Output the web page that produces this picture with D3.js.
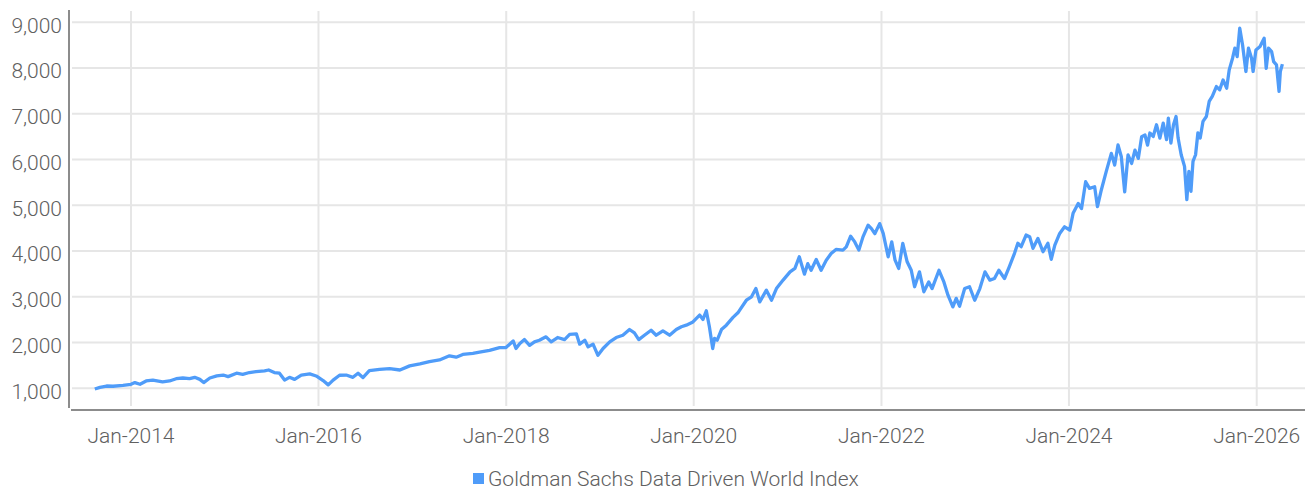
<!DOCTYPE html>
<html>

<head>
    <meta charset='utf-8'>
    <title>Goldman Sachs Data Driven World Index</title>
    <script type='text/javascript' src='https://cdn.jsdelivr.net/npm/d3@7'></script>
    <style>
        body { margin: 0; background: #fff; }
        text { font-family: Roboto, 'Noto Sans', sans-serif; font-weight: 300; fill: #606060; }
    </style>
</head>

<body>
    <svg width='1308' height='490'></svg>
    <script type='text/javascript'>
        const seriesName = 'Goldman Sachs Data Driven World Index'
        // roughly two points a month
        const dates = [
            '2013-08-13', '2013-09-02', '2013-09-28', '2013-10-23', '2013-12-01',
            '2014-01-01', '2014-01-16', '2014-02-05', '2014-03-01', '2014-03-27', '2014-05-04', '2014-05-31', '2014-06-26', '2014-07-22', '2014-08-17', '2014-09-06', '2014-09-26', '2014-10-11', '2014-11-04', '2014-12-01', '2014-12-26',
            '2015-01-14', '2015-02-16', '2015-03-12', '2015-04-07', '2015-05-03', '2015-06-05', '2015-06-21', '2015-07-13', '2015-08-02', '2015-08-22', '2015-09-10', '2015-09-30', '2015-10-26', '2015-11-28', '2015-12-23',
            '2016-01-19', '2016-02-08', '2016-02-27', '2016-03-23', '2016-04-18', '2016-05-14', '2016-06-03', '2016-06-22', '2016-07-17', '2016-08-26', '2016-10-04', '2016-11-13', '2016-12-21',
            '2017-01-30', '2017-03-08', '2017-04-16', '2017-05-25', '2017-06-20', '2017-07-16', '2017-08-24', '2017-09-19', '2017-10-28', '2017-12-06', '2017-12-31',
            '2018-01-28', '2018-02-08', '2018-02-23', '2018-03-13', '2018-04-02', '2018-04-21', '2018-05-10', '2018-06-05', '2018-06-25', '2018-07-20', '2018-08-16', '2018-09-05', '2018-10-01', '2018-10-14', '2018-11-03', '2018-11-16', '2018-12-05', '2018-12-24',
            '2019-01-13', '2019-02-08', '2019-03-05', '2019-03-31', '2019-04-26', '2019-05-15', '2019-06-01', '2019-06-23', '2019-07-19', '2019-08-08', '2019-09-03', '2019-09-29', '2019-10-25', '2019-11-14', '2019-12-03', '2019-12-29',
            '2020-01-24', '2020-02-06', '2020-02-19', '2020-03-02', '2020-03-15', '2020-03-22', '2020-04-01', '2020-04-18', '2020-05-07', '2020-06-02', '2020-06-21', '2020-06-28', '2020-07-24', '2020-08-13', '2020-08-30', '2020-09-14', '2020-10-10', '2020-10-30', '2020-11-18', '2020-12-14',
            '2021-01-10', '2021-01-29', '2021-02-15', '2021-03-07', '2021-03-20', '2021-04-02', '2021-04-22', '2021-05-11', '2021-05-31', '2021-06-19', '2021-07-08', '2021-08-04', '2021-08-17', '2021-09-03', '2021-09-19', '2021-10-05', '2021-10-21', '2021-11-10', '2021-11-23', '2021-12-06', '2021-12-25',
            '2022-01-08', '2022-01-27', '2022-02-10', '2022-02-23', '2022-03-09', '2022-03-25', '2022-04-11', '2022-04-27', '2022-05-10', '2022-05-29', '2022-06-15', '2022-07-04', '2022-07-17', '2022-08-13', '2022-09-01', '2022-09-17', '2022-10-06', '2022-10-19', '2022-11-01', '2022-11-21', '2022-12-10', '2022-12-30',
            '2023-01-19', '2023-02-08', '2023-02-27', '2023-03-17', '2023-04-03', '2023-04-25', '2023-05-14', '2023-06-03', '2023-06-16', '2023-06-29', '2023-07-18', '2023-08-01', '2023-08-14', '2023-09-02', '2023-09-22', '2023-10-11', '2023-10-24', '2023-11-07', '2023-11-26', '2023-12-15',
            '2024-01-04', '2024-01-17', '2024-02-06', '2024-02-19', '2024-03-06', '2024-03-21', '2024-04-10', '2024-04-21', '2024-05-06', '2024-05-25', '2024-06-14', '2024-06-27', '2024-07-10', '2024-07-23', '2024-08-05', '2024-08-18', '2024-09-01', '2024-09-14', '2024-09-27', '2024-10-10', '2024-10-23', '2024-11-02', '2024-11-11', '2024-11-24', '2024-12-07', '2024-12-20',
            '2025-01-02', '2025-01-15', '2025-01-22', '2025-02-01', '2025-02-11', '2025-02-21', '2025-03-01', '2025-03-13', '2025-03-26', '2025-04-04', '2025-04-12', '2025-04-20', '2025-04-28', '2025-05-08', '2025-05-17', '2025-05-26', '2025-06-06', '2025-06-19', '2025-06-30', '2025-07-12', '2025-07-28', '2025-08-10', '2025-08-23', '2025-09-06', '2025-09-16', '2025-09-29', '2025-10-08', '2025-10-17', '2025-10-27', '2025-11-07', '2025-11-20', '2025-11-30', '2025-12-12', '2025-12-18', '2025-12-29',
            '2026-01-14', '2026-01-30', '2026-02-07', '2026-02-16', '2026-02-28', '2026-03-08', '2026-03-19', '2026-03-29', '2026-04-03', '2026-04-11'
        ]
        const values = [
            985, 1020, 1050, 1045, 1065,
            1088, 1125, 1088, 1160, 1180, 1140, 1160, 1210, 1225, 1210, 1240, 1195, 1125, 1225, 1270, 1290,
            1255, 1330, 1305, 1345, 1365, 1380, 1400, 1345, 1330, 1180, 1240, 1195, 1290, 1315, 1270,
            1170, 1075, 1180, 1285, 1290, 1240, 1330, 1235, 1385, 1415, 1430, 1400, 1490,
            1535, 1585, 1620, 1710, 1680, 1740, 1765, 1790, 1830, 1890, 1890,
            2035, 1870, 1980, 2065, 1940, 2015, 2050, 2125, 2015, 2110, 2065, 2180, 2190, 1965, 2050, 1905, 1965, 1720,
            1870, 2015, 2110, 2160, 2285, 2210, 2065, 2160, 2270, 2160, 2255, 2160, 2285, 2345, 2380, 2450,
            2600, 2505, 2695, 2345, 1870, 2090, 2050, 2285, 2380, 2550, 2650, 2710, 2925, 3000, 3180, 2890, 3145, 2925, 3180, 3365,
            3545, 3620, 3875, 3495, 3725, 3580, 3815, 3580, 3800, 3945, 4035, 4020, 4090, 4325, 4200, 4020, 4310, 4565, 4490, 4380, 4600,
            4380, 3875, 4200, 3800, 3620, 4165, 3765, 3580, 3220, 3545, 3110, 3325, 3180, 3580, 3325, 3035, 2780, 2965, 2795, 3180, 3220, 2925,
            3180, 3545, 3365, 3400, 3580, 3400, 3660, 3950, 4170, 4095, 4350, 4315, 4060, 4275, 3985, 4170, 3820, 4130, 4385, 4530,
            4460, 4825, 5040, 4930, 5515, 5370, 5405, 4970, 5335, 5735, 6135, 5880, 6320, 6060, 5295, 6100, 5915, 6205, 6025, 6500, 6535, 6315, 6580, 6505, 6760, 6470,
            6795, 6435, 6905, 6360, 6760, 6940, 6470, 6105, 5850, 5125, 5740, 5305, 5960, 6105, 6580, 6470, 6835, 6940, 7270, 7380, 7595, 7525, 7740, 7560, 7960, 8215, 8435, 8250, 8870, 8505, 7925, 8435, 8215, 7925, 8395,
            8470, 8650, 7995, 8435, 8360, 8140, 8070, 7490, 7925, 8085
        ]
        const yTicks = [1000, 2000, 3000, 4000, 5000, 6000, 7000, 8000, 9000]
        const xTickYears = [2014, 2016, 2018, 2020, 2022, 2024, 2026]

        const svg = d3.select('svg')
        const parse = d3.timeParse('%Y-%m-%d')
        const data = dates.map((d, i) => ({ date: parse(d), value: values[i] }))

        const x = d3.scaleTime()
            .domain([new Date(2014, 0, 1), new Date(2026, 0, 1)])
            .range([131, 1256.7])
        const y = d3.scaleLinear()
            .domain([1000, 9000])
            .range([388.3, 22.3])
        const xTicks = xTickYears.map(yr => new Date(yr, 0, 1))

        // grid
        const grid = svg.append('g')
        grid.selectAll('.hgrid').data(yTicks)
            .enter().append('line')
            .attr('x1', 72).attr('x2', 1305)
            .attr('y1', d => y(d)).attr('y2', d => y(d))
            .attr('stroke', '#e6e6e6')
            .attr('stroke-width', 2)
        grid.selectAll('.vgrid').data(xTicks)
            .enter().append('line')
            .attr('x1', d => x(d)).attr('x2', d => x(d))
            .attr('y1', 11).attr('y2', 406)
            .attr('stroke', '#e6e6e6')
            .attr('stroke-width', 2)

        // axis lines
        svg.append('line')
            .attr('x1', 69).attr('x2', 69).attr('y1', 10).attr('y2', 408)
            .attr('stroke', '#8c8c8c').attr('stroke-width', 2)
        svg.append('line')
            .attr('x1', 71).attr('x2', 1305).attr('y1', 410).attr('y2', 410)
            .attr('stroke', '#8c8c8c').attr('stroke-width', 2)

        // tick labels
        svg.append('g').selectAll('text').data(yTicks)
            .enter().append('text')
            .attr('x', 62)
            .attr('y', d => y(d) + 3)
            .attr('dy', '0.35em')
            .attr('text-anchor', 'end')
            .attr('font-size', 21)
            .text(d3.format(','))
        svg.append('g').selectAll('text').data(xTicks)
            .enter().append('text')
            .attr('x', d => x(d))
            .attr('y', 443)
            .attr('text-anchor', 'middle')
            .attr('font-size', 21)
            .text(d3.timeFormat('%b-%Y'))

        // line
        const lineGenerator = d3.line()
            .x(d => x(d.date))
            .y(d => y(d.value))
        svg.append('path')
            .attr('d', lineGenerator(data))
            .attr('fill', 'none')
            .attr('stroke', '#4f9cf9')
            .attr('stroke-width', 3.3)
            .attr('stroke-linejoin', 'round')

        // legend
        const legend = svg.append('g')
        legend.append('rect')
            .attr('x', 473).attr('y', 473)
            .attr('width', 11).attr('height', 11)
            .attr('fill', '#4f9cf9')
        legend.append('text')
            .attr('x', 488).attr('y', 486)
            .attr('font-size', 21)
            .text(seriesName)
    </script>
</body>

</html>
